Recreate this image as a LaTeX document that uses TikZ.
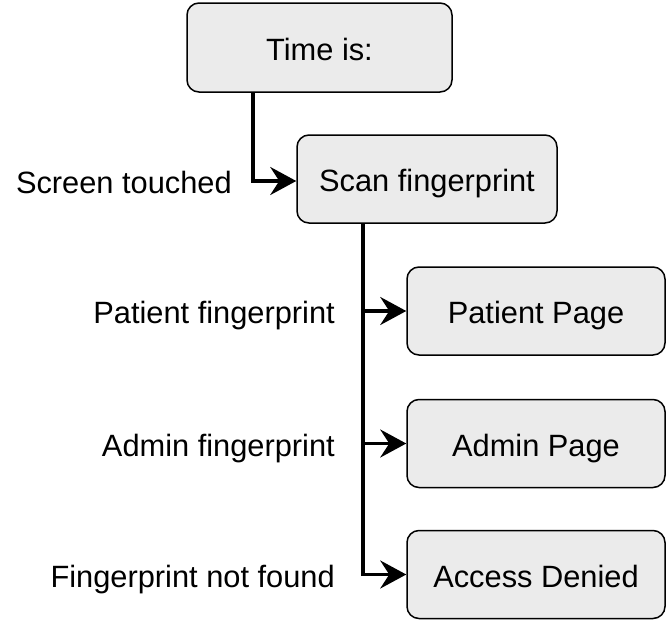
\documentclass[tikz,border=0pt]{standalone}
\usepackage{fontspec}
\setmainfont{Liberation Sans}
\usetikzlibrary{arrows.meta}
\definecolor{boxfill}{HTML}{EBEBEB}
\tikzset{
  labelfont/.style={font=\fontsize{30.8}{36}\selectfont},
  statebox/.style={draw=black, fill=boxfill, line width=1.5pt, rounded corners=12pt,
    minimum width=258pt, minimum height=88pt, inner sep=0pt,
    text height=26pt, text depth=1pt, labelfont},
  flow/.style={line width=3.5pt, -{Stealth[length=26pt,width=28pt,inset=9pt]}},
  trunk/.style={line width=3.5pt},
  cond/.style={anchor=east, inner sep=0pt, text height=26pt, text depth=1pt, labelfont}
}
\begin{document}
\begin{tikzpicture}[x=1pt, y=-1pt]
  \useasboundingbox (0,0) rectangle (667,619);

  % state boxes
  \node[statebox, minimum width=265pt, minimum height=89pt] (time) at (319.5,47.5) {Time is:};
  \node[statebox, minimum width=260pt] (scan) at (427,179) {Scan fingerprint};
  \node[statebox] (patient) at (536,311) {Patient Page};
  \node[statebox] (admin) at (536,443.5) {Admin Page};
  \node[statebox] (denied) at (536,574.5) {Access Denied};

  % elbow from the clock screen to the scanner
  \coordinate (tdrop) at (253,92);
  \coordinate (tbend) at (253,181);
  \draw[flow] (tdrop) -- (tbend) -- (tbend -| scan.west);

  % trunk out of the scanner with its three branches
  \coordinate (stop) at (363,223);
  \coordinate (b1) at (363,311);
  \coordinate (b2) at (363,443.5);
  \coordinate (b3) at (363,574.5);
  \draw[trunk] (stop) -- (b3);
  \draw[flow] (b1) -- (b1 -| patient.west);
  \draw[flow] (b2) -- (b2 -| admin.west);
  \draw[flow] ([xshift=-1.75pt]b3) -- (b3 -| denied.west);

  % condition labels
  \node[cond] (lt) at (232,181) {Screen touched};
  \node[cond] (l1) at (335,311) {Patient fingerprint};
  \node[cond] (l2) at (335,443.5) {Admin fingerprint};
  \node[cond] (l3) at (335,574.5) {Fingerprint not found};
\end{tikzpicture}
\end{document}
